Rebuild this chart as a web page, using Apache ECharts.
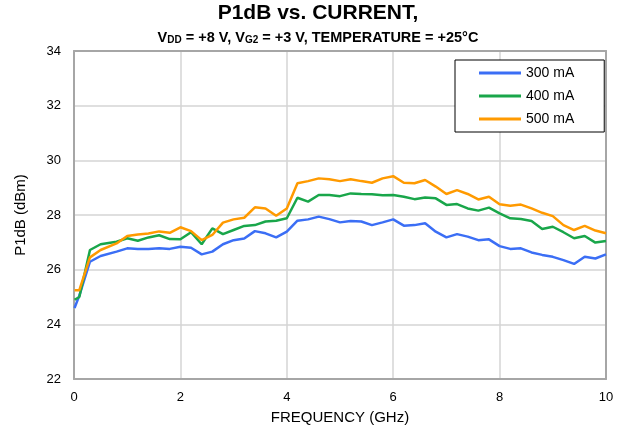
<!DOCTYPE html>
<html>
<head>
<meta charset="utf-8">
<script src="https://cdn.jsdelivr.net/npm/echarts@6/dist/echarts.min.js"></script>
<style>
  html, body { margin: 0; padding: 0; background: #fff; }
  #chart { width: 619px; height: 431px; }
</style>
</head>
<body>
<div id="chart"></div>
<script>
// frequency points (GHz)
const freq = [0.01, 0.1, 0.3, 0.5, 0.8, 1.0, 1.2, 1.4, 1.6, 1.8, 2.0, 2.2, 2.4, 2.6, 2.8, 3.0, 3.2, 3.4, 3.6, 3.8,
  4.0, 4.2, 4.4, 4.6, 4.8, 5.0, 5.2, 5.4, 5.6, 5.8, 6.0, 6.2, 6.4, 6.6, 6.8, 7.0, 7.2, 7.4, 7.6, 7.8,
  8.0, 8.2, 8.4, 8.6, 8.8, 9.0, 9.2, 9.4, 9.6, 9.8, 10.0];

// P1dB (dBm) per drain current
const p300 = [24.6, 25.05, 26.29, 26.5, 26.66, 26.78, 26.76, 26.76, 26.78, 26.76, 26.84, 26.8, 26.56, 26.66, 26.93, 27.08, 27.14, 27.41, 27.33, 27.18,
  27.39, 27.79, 27.84, 27.94, 27.85, 27.73, 27.78, 27.76, 27.63, 27.73, 27.84, 27.61, 27.63, 27.7, 27.39, 27.18, 27.3, 27.21, 27.08, 27.11,
  26.86, 26.76, 26.78, 26.63, 26.54, 26.47, 26.35, 26.21, 26.47, 26.41, 26.56];
const p400 = [24.9, 25.0, 26.72, 26.93, 27.02, 27.15, 27.06, 27.18, 27.26, 27.12, 27.11, 27.37, 26.93, 27.51, 27.3, 27.45, 27.6, 27.63, 27.76, 27.79,
  27.88, 28.63, 28.49, 28.73, 28.73, 28.69, 28.79, 28.77, 28.76, 28.72, 28.73, 28.67, 28.58, 28.64, 28.61, 28.37, 28.4, 28.24, 28.16, 28.27,
  28.06, 27.88, 27.85, 27.78, 27.49, 27.57, 27.37, 27.15, 27.23, 26.99, 27.05];
const p500 = [25.25, 25.25, 26.45, 26.72, 26.96, 27.23, 27.29, 27.32, 27.4, 27.35, 27.55, 27.41, 27.08, 27.27, 27.72, 27.84, 27.9, 28.28, 28.24, 27.97,
  28.24, 29.16, 29.24, 29.34, 29.31, 29.24, 29.31, 29.24, 29.18, 29.34, 29.42, 29.18, 29.16, 29.28, 29.04, 28.77, 28.91, 28.77, 28.57, 28.67,
  28.39, 28.34, 28.38, 28.24, 28.08, 27.96, 27.63, 27.45, 27.6, 27.43, 27.33];

const seriesNames = ['300 mA', '400 mA', '500 mA'];
const seriesColors = ['#3b6ef5', '#19a64a', '#ff9a00'];

const pair = (ys) => freq.map((f, i) => [f, ys[i]]);

const chart = echarts.init(document.getElementById('chart'), null, { renderer: 'canvas' });

const font = 'Liberation Sans, Arial, sans-serif';
const frameLine = { show: true, onZero: false, lineStyle: { color: '#a6a6a6', width: 2 } };
// extra axes only draw the top / right edges of the frame
const edgeAxis = { axisLine: frameLine, axisTick: { show: false }, axisLabel: { show: false }, splitLine: { show: false } };

chart.setOption({
  animation: false,
  textStyle: { fontFamily: font },
  graphic: [
    {
      type: 'text', x: 318, y: 3,
      style: { text: 'P1dB vs. CURRENT,', font: 'bold 21px ' + font, fill: '#000', align: 'center', verticalAlign: 'top' }
    },
    {
      type: 'text', x: 318, y: 30,
      style: {
        text: 'V{s|DD} = +8 V, V{s|G2} = +3 V, TEMPERATURE = +25°C',
        font: 'bold 14.5px ' + font, fill: '#000', align: 'center', verticalAlign: 'top',
        rich: { s: { font: 'bold 10px ' + font, fill: '#000', verticalAlign: 'bottom', padding: [5, 0, 0, 0] } }
      }
    }
  ],
  grid: { left: 74, right: 13, top: 51, bottom: 52 },
  legend: {
    orient: 'vertical',
    left: 455, top: 60,
    padding: [6, 30, 6, 24],
    itemGap: 9,
    itemWidth: 42, itemHeight: 3,
    icon: 'rect',
    borderColor: '#000', borderWidth: 1,
    backgroundColor: '#fff',
    textStyle: { fontSize: 14, color: '#000', fontFamily: font },
    data: seriesNames
  },
  xAxis: [
    {
      type: 'value', min: 0, max: 10, interval: 2,
      name: 'FREQUENCY (GHz)', nameLocation: 'middle', nameGap: 31,
      nameTextStyle: { fontSize: 15, color: '#000' },
      axisLine: frameLine,
      axisTick: { show: false },
      axisLabel: { fontSize: 13, color: '#000', margin: 12 },
      splitLine: { lineStyle: { color: '#d4d4d4', width: 1.5 } }
    },
    Object.assign({ type: 'value', min: 0, max: 10, position: 'top' }, edgeAxis)
  ],
  yAxis: [
    {
      type: 'value', min: 22, max: 34, interval: 2,
      name: 'P1dB (dBm)', nameLocation: 'middle', nameGap: 46,
      nameTextStyle: { fontSize: 15, color: '#000' },
      axisLine: frameLine,
      axisTick: { show: false },
      axisLabel: { fontSize: 13, color: '#000', margin: 13 },
      splitLine: { lineStyle: { color: '#d4d4d4', width: 1.5 } }
    },
    Object.assign({ type: 'value', min: 22, max: 34, position: 'right' }, edgeAxis)
  ],
  series: [p300, p400, p500].map((ys, i) => ({
    name: seriesNames[i],
    type: 'line',
    data: pair(ys),
    showSymbol: false,
    color: seriesColors[i],
    lineStyle: { width: 2.5, color: seriesColors[i] }
  }))
});
</script>
</body>
</html>
